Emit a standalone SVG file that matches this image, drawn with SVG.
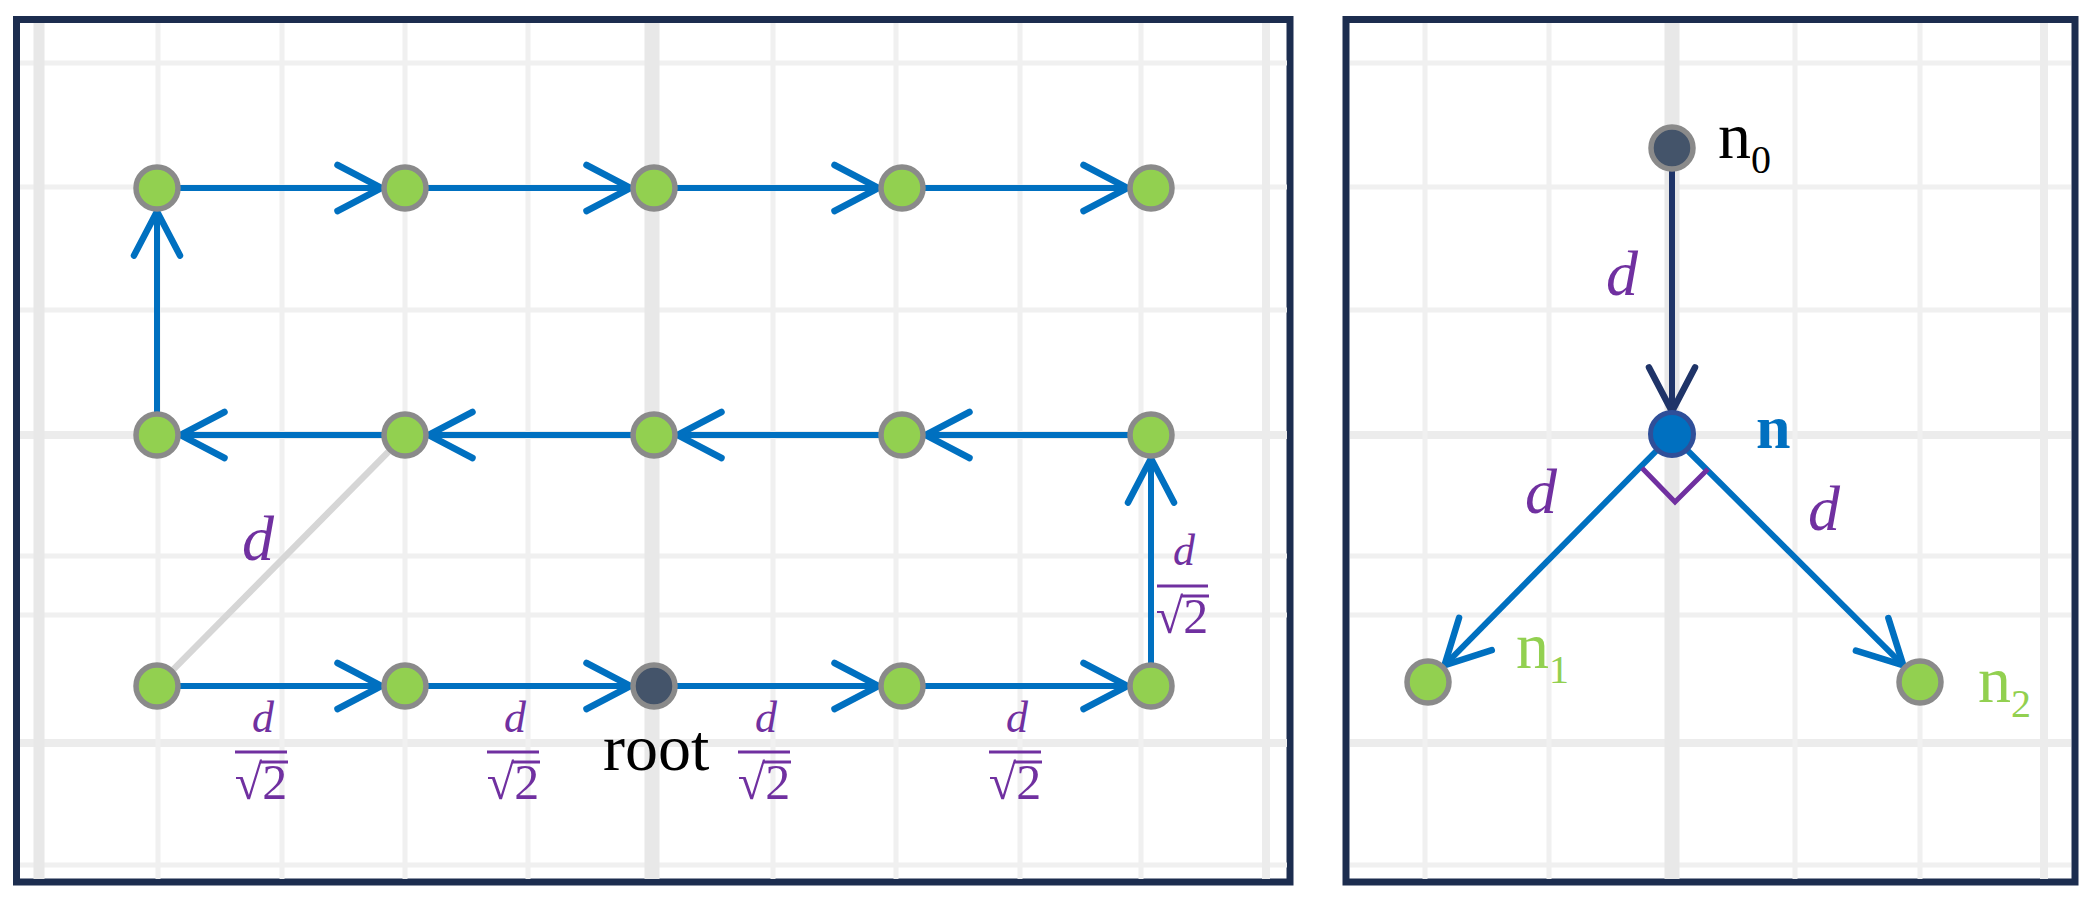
<svg xmlns="http://www.w3.org/2000/svg" width="2092" height="903" viewBox="0 0 2092 903">
<style>
.g{stroke:#f0f0f0;stroke-width:5;fill:none}
.gt{stroke:#e8e8e8;stroke-width:15;fill:none}
.gm{stroke:#ececec;stroke-width:8;fill:none}
.frame{fill:#ffffff;stroke:#1c2d4f;stroke-width:7}
.e{stroke:#0070c0;stroke-width:6;fill:none;marker-end:url(#ah)}
.e0{stroke:#1f3468;stroke-width:6;fill:none;marker-end:url(#ahd)}
.nd{fill:#92d050;stroke:#8a8a8a;stroke-width:5.5}
.nr{fill:#44546a;stroke:#8a8a8a;stroke-width:5.5}
.lbl{font-family:"Liberation Serif",serif;fill:#7030a0}
.it{font-style:italic}
.bar{stroke:#7030a0;stroke-width:3;fill:none}
</style>
<defs>
<marker id="ah" markerUnits="userSpaceOnUse" markerWidth="60" markerHeight="60" refX="50" refY="30" orient="auto" overflow="visible">
<path d="M6,7 L50,30 L6,53" fill="none" stroke="#0070c0" stroke-width="6.5" stroke-linecap="round" stroke-linejoin="miter"/>
</marker>
<marker id="ahd" markerUnits="userSpaceOnUse" markerWidth="60" markerHeight="60" refX="50" refY="30" orient="auto" overflow="visible">
<path d="M6,7 L50,30 L6,53" fill="none" stroke="#1f3468" stroke-width="6.5" stroke-linecap="round" stroke-linejoin="miter"/>
</marker>
</defs>
<rect width="2092" height="903" fill="#ffffff"/>

<g id="panel-left-frame">
<rect class="frame" x="16.5" y="19.5" width="1273.5" height="862.5"/>
</g>
<g id="panel-right-frame">
<rect class="frame" x="1346" y="19.5" width="729" height="862.5"/>
</g>

<g id="grid-left">
<line class="g" x1="20" y1="63" x2="1287" y2="63"/>
<line class="g" x1="20" y1="187" x2="1287" y2="187"/>
<line class="g" x1="20" y1="310" x2="1287" y2="310"/>
<line class="gm" x1="20" y1="435" x2="1287" y2="435"/>
<line class="g" x1="20" y1="556" x2="1287" y2="556"/>
<line class="g" x1="20" y1="615" x2="1287" y2="615"/>
<line class="gm" x1="20" y1="743" x2="1287" y2="743"/>
<line class="g" x1="20" y1="865" x2="1287" y2="865"/>
<line class="gt" x1="39" y1="23" x2="39" y2="879" style="stroke-width:11"/>
<line class="g" x1="158" y1="23" x2="158" y2="879"/>
<line class="g" x1="282" y1="23" x2="282" y2="879"/>
<line class="g" x1="405" y1="23" x2="405" y2="879"/>
<line class="g" x1="528" y1="23" x2="528" y2="879"/>
<line class="gt" x1="652" y1="23" x2="652" y2="879"/>
<line class="g" x1="773" y1="23" x2="773" y2="879"/>
<line class="g" x1="896" y1="23" x2="896" y2="879"/>
<line class="g" x1="1020" y1="23" x2="1020" y2="879"/>
<line class="g" x1="1141" y1="23" x2="1141" y2="879"/>
<line class="gm" x1="1266" y1="23" x2="1266" y2="879"/>
</g>
<g id="grid-right">
<line class="g" x1="1350" y1="63" x2="2071" y2="63"/>
<line class="g" x1="1350" y1="187" x2="2071" y2="187"/>
<line class="g" x1="1350" y1="310" x2="2071" y2="310"/>
<line class="gm" x1="1350" y1="435" x2="2071" y2="435"/>
<line class="g" x1="1350" y1="556" x2="2071" y2="556"/>
<line class="g" x1="1350" y1="615" x2="2071" y2="615"/>
<line class="gm" x1="1350" y1="743" x2="2071" y2="743"/>
<line class="g" x1="1350" y1="865" x2="2071" y2="865"/>
<line class="g" x1="1425" y1="23" x2="1425" y2="879"/>
<line class="g" x1="1549" y1="23" x2="1549" y2="879"/>
<line class="gt" x1="1672" y1="23" x2="1672" y2="879"/>
<line class="g" x1="1795" y1="23" x2="1795" y2="879"/>
<line class="g" x1="1920" y1="23" x2="1920" y2="879"/>
<line class="gm" x1="2044" y1="23" x2="2044" y2="879"/>
</g>

<g id="connectors">
<line x1="157" y1="686" x2="405" y2="435" stroke="#d6d6d6" stroke-width="6.5"/>
<line class="e" x1="157" y1="686" x2="381.5" y2="686"/>
<line class="e" x1="405" y1="686" x2="630.5" y2="686"/>
<line class="e" x1="654" y1="686" x2="878.5" y2="686"/>
<line class="e" x1="902" y1="686" x2="1127.5" y2="686"/>
<line class="e" x1="1151" y1="686" x2="1151" y2="458.5"/>
<line class="e" x1="1151" y1="435" x2="925.5" y2="435"/>
<line class="e" x1="902" y1="435" x2="677.5" y2="435"/>
<line class="e" x1="654" y1="435" x2="428.5" y2="435"/>
<line class="e" x1="405" y1="435" x2="180.5" y2="435"/>
<line class="e" x1="157" y1="435" x2="157" y2="211.5"/>
<line class="e" x1="157" y1="188" x2="381.5" y2="188"/>
<line class="e" x1="405" y1="188" x2="630.5" y2="188"/>
<line class="e" x1="654" y1="188" x2="878.5" y2="188"/>
<line class="e" x1="902" y1="188" x2="1127.5" y2="188"/>
<line class="e0" x1="1672" y1="148" x2="1672" y2="411.5"/>
<line class="e" x1="1672" y1="435" x2="1444.5" y2="665.3"/>
<line class="e" x1="1672" y1="435" x2="1903.3" y2="665.4"/>
<polyline points="1642,468 1675,502 1708,469" fill="none" stroke="#7030a0" stroke-width="5"/>
</g>

<g id="node-r1-1"><circle class="nd" cx="157" cy="188" r="21"/></g>
<g id="node-r1-2"><circle class="nd" cx="405" cy="188" r="21"/></g>
<g id="node-r1-3"><circle class="nd" cx="654" cy="188" r="21"/></g>
<g id="node-r1-4"><circle class="nd" cx="902" cy="188" r="21"/></g>
<g id="node-r1-5"><circle class="nd" cx="1151" cy="188" r="21"/></g>
<g id="node-r2-1"><circle class="nd" cx="157" cy="435" r="21"/></g>
<g id="node-r2-2"><circle class="nd" cx="405" cy="435" r="21"/></g>
<g id="node-r2-3"><circle class="nd" cx="654" cy="435" r="21"/></g>
<g id="node-r2-4"><circle class="nd" cx="902" cy="435" r="21"/></g>
<g id="node-r2-5"><circle class="nd" cx="1151" cy="435" r="21"/></g>
<g id="node-r3-1"><circle class="nd" cx="157" cy="686" r="21"/></g>
<g id="node-r3-2"><circle class="nd" cx="405" cy="686" r="21"/></g>
<g id="node-root"><circle class="nr" cx="654" cy="686" r="21"/>
<text x="603" y="770" font-family="Liberation Serif, serif" font-size="66" fill="#000000">root</text></g>
<g id="node-r3-4"><circle class="nd" cx="902" cy="686" r="21"/></g>
<g id="node-r3-5"><circle class="nd" cx="1151" cy="686" r="21"/></g>

<g id="node-n0"><circle class="nr" cx="1672" cy="148" r="21"/>
<text x="1718" y="158" font-family="Liberation Serif, serif" font-size="66" fill="#000000">n<tspan font-size="40" dy="15">0</tspan></text></g>
<g id="node-n"><circle cx="1672" cy="434" r="21.5" fill="#0070c0" stroke="#2f4f99" stroke-width="5"/>
<text x="1756" y="448" font-family="Liberation Serif, serif" font-size="62" font-weight="bold" fill="#0070c0">n</text></g>
<g id="node-n1"><circle class="nd" cx="1428" cy="682" r="21"/>
<text x="1516" y="668" font-family="Liberation Serif, serif" font-size="66" fill="#92d050">n<tspan font-size="40" dy="15">1</tspan></text></g>
<g id="node-n2"><circle class="nd" cx="1920" cy="682" r="21"/>
<text x="1978" y="702" font-family="Liberation Serif, serif" font-size="66" fill="#92d050">n<tspan font-size="40" dy="15">2</tspan></text></g>

<g id="labels">
<text class="lbl it" x="258" y="560" font-size="64" text-anchor="middle">d</text>
<text class="lbl it" x="1622" y="295" font-size="64" text-anchor="middle">d</text>
<text class="lbl it" x="1541" y="513" font-size="64" text-anchor="middle">d</text>
<text class="lbl it" x="1824" y="530" font-size="64" text-anchor="middle">d</text>

<g id="frac1">
<text class="lbl it" x="263" y="732" font-size="44" text-anchor="middle">d</text>
<line class="bar" x1="235" y1="752" x2="287" y2="752"/>
<text class="lbl" x="261" y="799" font-size="50" text-anchor="middle">√2</text>
<line class="bar" x1="260" y1="762" x2="288" y2="762"/>
</g>
<g id="frac2">
<text class="lbl it" x="515" y="732" font-size="44" text-anchor="middle">d</text>
<line class="bar" x1="487" y1="752" x2="539" y2="752"/>
<text class="lbl" x="513" y="799" font-size="50" text-anchor="middle">√2</text>
<line class="bar" x1="512" y1="762" x2="540" y2="762"/>
</g>
<g id="frac3">
<text class="lbl it" x="766" y="732" font-size="44" text-anchor="middle">d</text>
<line class="bar" x1="738" y1="752" x2="790" y2="752"/>
<text class="lbl" x="764" y="799" font-size="50" text-anchor="middle">√2</text>
<line class="bar" x1="763" y1="762" x2="791" y2="762"/>
</g>
<g id="frac4">
<text class="lbl it" x="1017" y="732" font-size="44" text-anchor="middle">d</text>
<line class="bar" x1="989" y1="752" x2="1041" y2="752"/>
<text class="lbl" x="1015" y="799" font-size="50" text-anchor="middle">√2</text>
<line class="bar" x1="1014" y1="762" x2="1042" y2="762"/>
</g>
<g id="frac5">
<text class="lbl it" x="1184" y="565" font-size="44" text-anchor="middle">d</text>
<line class="bar" x1="1157" y1="586" x2="1208" y2="586"/>
<text class="lbl" x="1182" y="633" font-size="50" text-anchor="middle">√2</text>
<line class="bar" x1="1181" y1="596" x2="1209" y2="596"/>
</g>
</g>
</svg>
